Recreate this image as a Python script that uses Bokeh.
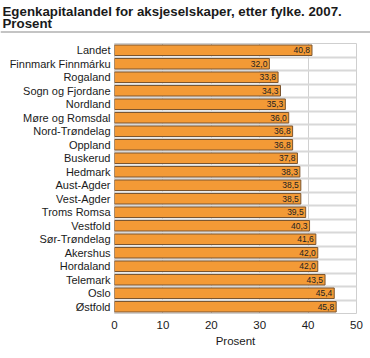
from bokeh.plotting import figure
from bokeh.models import Range1d, FixedTicker, ColumnDataSource
from bokeh.layouts import column, row
from bokeh.core.properties import value
from bokeh.embed import file_html
from bokeh.resources import INLINE

categories = ["Landet", "Finnmark Finnmárku", "Rogaland", "Sogn og Fjordane", "Nordland",
              "Møre og Romsdal", "Nord-Trøndelag", "Oppland", "Buskerud", "Hedmark",
              "Aust-Agder", "Vest-Agder", "Troms Romsa", "Vestfold", "Sør-Trøndelag",
              "Akershus", "Hordaland", "Telemark", "Oslo", "Østfold"]
values = [40.8, 32.0, 33.8, 34.3, 35.3, 36.0, 36.8, 36.8, 37.8, 38.3,
          38.5, 38.5, 39.5, 40.3, 41.6, 42.0, 42.0, 43.5, 45.4, 45.8]
x_ticks = [0, 10, 20, 30, 40, 50]
title_lines = ["Egenkapitalandel for aksjeselskaper, etter fylke. 2007.", "Prosent"]
x_label = "Prosent"

FONT = "Liberation Sans"
W = 370

# ---------- title strip ----------
TH = 40
tf = figure(width=W, height=TH, output_backend="svg", toolbar_location=None,
            x_range=Range1d(0, W), y_range=Range1d(0, TH),
            min_border=0, x_axis_type=None, y_axis_type=None)
tf.outline_line_color = None
tf.grid.visible = False
tf.text(x=[2, 2], y=[TH - 11, TH - 23], text=title_lines, text_baseline="middle",
        text_font=value(FONT), text_font_style="bold", text_font_size="13.3px",
        text_color="#1a1a1a")
tf.rect(x=[W / 2], y=[TH - 31.5], width=[W], height=[2], fill_color="#c4c4c4",
        line_color=None)

# ---------- main chart ----------
n = len(categories)
ypos = list(range(n))
labels = [f"{v:.1f}".replace(".", ",") for v in values]
src = ColumnDataSource(dict(y=ypos, v=values, lab=labels))

p = figure(width=W, height=312, output_backend="svg", toolbar_location=None,
           x_range=Range1d(0, 50), y_range=Range1d(n - 0.5, -0.5),
           min_border_left=114, min_border_right=14, min_border_top=3, min_border_bottom=39)
p.background_fill_color = "white"
p.border_fill_color = "white"
p.outline_line_color = "#cfcfcf"
p.outline_line_width = 1

p.xgrid.ticker = FixedTicker(ticks=x_ticks)
p.xgrid.grid_line_color = "#d0d0d0"
p.ygrid.ticker = FixedTicker(ticks=[i + 0.5 for i in range(-1, n)])
p.ygrid.grid_line_color = "#d8d8d8"
p.ygrid.grid_line_width = 2

p.hbar(y="y", right="v", left=0, height=0.78, source=src,
       fill_color="#f39a36", line_color="#7a5530", line_width=1)
p.text(x="v", y="y", text="lab", source=src, x_offset=-2,
       text_align="right", text_baseline="middle", text_font_size="8.5px",
       text_font=value(FONT), text_color="#222222")

p.yaxis.ticker = FixedTicker(ticks=ypos)
p.yaxis.major_label_overrides = {i: c for i, c in enumerate(categories)}
p.yaxis.axis_line_color = None
p.yaxis.major_tick_line_color = None
p.yaxis.minor_tick_line_color = None
p.yaxis.major_tick_out = 0
p.yaxis.major_tick_in = 0
p.yaxis.major_label_standoff = 4
p.yaxis.major_label_text_font = FONT
p.yaxis.major_label_text_font_size = "11px"
p.yaxis.major_label_text_color = "#1a1a1a"

p.xaxis.ticker = FixedTicker(ticks=x_ticks)
p.xaxis.axis_line_color = None
p.xaxis.major_tick_line_color = None
p.xaxis.minor_tick_line_color = None
p.xaxis.major_tick_out = 0
p.xaxis.major_tick_in = 0
p.xaxis.major_label_standoff = 7
p.xaxis.major_label_text_font = FONT
p.xaxis.major_label_text_font_size = "11.5px"
p.xaxis.major_label_text_color = "#1a1a1a"
p.xaxis.axis_label = x_label
p.xaxis.axis_label_text_font = FONT
p.xaxis.axis_label_text_font_style = "normal"
p.xaxis.axis_label_text_font_size = "11.5px"
p.xaxis.axis_label_text_color = "#1a1a1a"
p.xaxis.axis_label_standoff = 3

# ---------- footer rule ----------
FH = 6
ff = figure(width=W, height=FH, output_backend="svg", toolbar_location=None,
            x_range=Range1d(0, W), y_range=Range1d(0, FH),
            min_border=0, x_axis_type=None, y_axis_type=None)
ff.outline_line_color = None
ff.grid.visible = False
ff.rect(x=[W / 2], y=[2], width=[W], height=[2], fill_color="#c4c4c4", line_color=None)

layout = column(row(tf), p, row(ff), spacing=0)
open("out.html", "w").write(file_html(layout, INLINE))
